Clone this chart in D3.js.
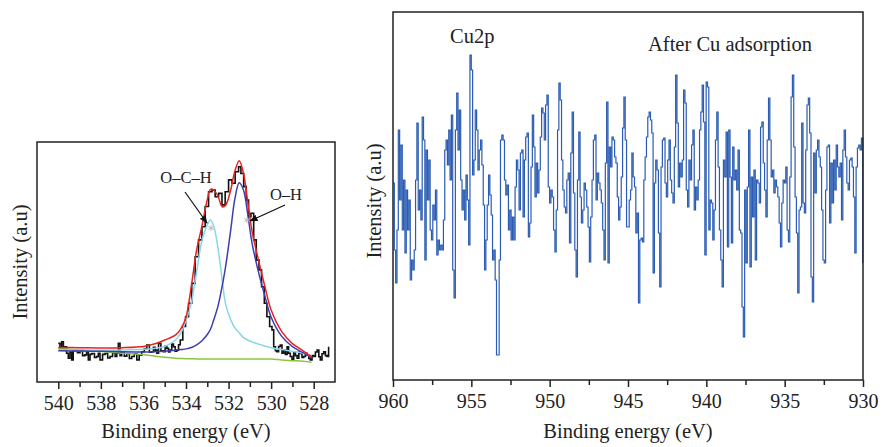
<!DOCTYPE html>
<html>
<head>
<meta charset="utf-8">
<script src="https://cdn.jsdelivr.net/npm/d3@7"></script>
<style>
body { margin: 0; background: #fff; }
text { font-family: "Liberation Serif", "DejaVu Serif", serif; fill: #222; }
</style>
</head>
<body>
<div id="xps"></div>
<script>
// XPS spectra: O1s fit (left) and Cu2p after adsorption (right)

// ---- O1s fitted curves ----
const fitEnergy = [540, 539, 538, 537, 536, 535.5, 535, 534.5, 534.25, 534, 533.75, 533.5, 533.25, 533, 532.85, 532.7, 532.5, 532.3, 532.15, 531.9, 531.7, 531.5, 531.3, 531.1, 530.9, 530.6, 530.3, 530, 529.5, 529, 528.5, 528.1];
const fitEnvelope = [14.4, 14.3, 14.2, 14.3, 14.8, 15.8, 17.5, 19.5, 22, 27, 40, 55, 65, 76, 80.3, 80, 77.5, 73, 73.5, 80, 88, 92.2, 87, 75, 63, 51, 40, 30, 21, 16, 13, 10.5];
const fitOCH = [13.4, 13.3, 13.2, 13.3, 13.6, 14, 14.8, 17.5, 20.3, 25.5, 33, 46, 59, 65.5, 67.5, 65, 56, 42.5, 33, 26, 22.5, 20.5, 18.5, 17.5, 16.7, 15.8, 15, 14.3, 13.5, 12.8, 12, 11];
const fitOH = [13, 12.9, 12.8, 12.6, 12.5, 12.6, 12.8, 13.2, 13.5, 13.8, 14.4, 15.5, 17.2, 19.8, 22, 25.8, 31.5, 40, 47.5, 63.3, 76.5, 83, 80, 70, 58, 46, 36, 27, 19, 14.7, 12.2, 10];
const fitBackground = [14.2, 13.4, 12.8, 12, 11.4, 10.8, 10.3, 9.9, 9.8, 9.7, 9.7, 9.6, 9.6, 9.6, 9.6, 9.6, 9.6, 9.6, 9.6, 9.6, 9.6, 9.6, 9.6, 9.6, 9.6, 9.6, 9.6, 9.6, 9.2, 8.9, 8.6, 8.2];

// ---- O1s measured counts ----
const o1sEnergy = [540, 539.92, 539.84, 539.76, 539.69, 539.61, 539.53, 539.45, 539.37, 539.3, 539.22, 539.1, 538.98, 538.86, 538.75, 538.67, 538.59, 538.51, 538.43, 538.3, 538.2, 538.12, 538.04, 537.92, 537.8, 537.68, 537.57, 537.45, 537.33, 537.25, 537.18, 537.1, 537.02, 536.9, 536.78, 536.66, 536.55, 536.43, 536.31, 536.2, 536.08, 535.96, 535.84, 535.72, 535.61, 535.53, 535.45, 535.37, 535.29, 535.18, 535.06, 534.98, 534.9, 534.82, 534.75, 534.67, 534.59, 534.51, 534.43, 534.35, 534.27, 534.15, 534.02, 533.88, 533.73, 533.57, 533.41, 533.25, 533.1, 532.94, 532.78, 532.63, 532.47, 532.31, 532.16, 532, 531.84, 531.69, 531.53, 531.42, 531.29, 531.17, 531.06, 530.95, 530.82, 530.7, 530.57, 530.45, 530.32, 530.2, 530.07, 529.96, 529.88, 529.8, 529.73, 529.65, 529.57, 529.49, 529.41, 529.33, 529.25, 529.18, 529.1, 529.02, 528.94, 528.86, 528.78, 528.7, 528.63, 528.55, 528.47, 528.39, 528.31, 528.23, 528.16, 528.08, 528, 527.92, 527.84, 527.76, 527.69, 527.61, 527.53, 527.45, 527.37, 527.3];
const o1sCounts = [16.1, 13.5, 16.8, 13.3, 14.7, 12, 9.9, 12.5, 9.2, 13, 13.3, 12.2, 13.3, 11, 11.3, 12.8, 9.2, 11.5, 11.9, 10.2, 10.6, 12, 9.2, 11.5, 11.9, 10, 10.6, 12.2, 10.6, 12, 16.1, 11, 12.6, 10.8, 11.9, 9.8, 10.6, 11.8, 9.2, 11.2, 12.6, 13.8, 15.4, 12.4, 12.6, 14.5, 13.3, 12, 16.1, 13, 12.6, 15, 14, 12.5, 13.3, 15.8, 14.7, 12.8, 13.3, 15.5, 17.5, 23.1, 27.2, 32.8, 41.1, 52.2, 59.2, 64.7, 73.1, 79.3, 80, 77.2, 78.6, 73.8, 79.3, 84.2, 82.8, 87.6, 89.7, 86.9, 81.4, 75.8, 68.9, 70.3, 59.2, 50.8, 46.7, 39.7, 32.8, 27.2, 23.1, 21.7, 14.7, 13, 12.6, 14.8, 15.4, 12, 13.3, 11.5, 14.7, 12, 10.6, 9.5, 12.6, 11, 9.9, 12.5, 11.9, 10.2, 10.6, 12, 11.3, 9.8, 9.2, 11, 10.6, 12.5, 13.3, 10.5, 9.2, 11.8, 12.6, 11, 10.6, 14.7];

// ---- Cu2p counts, one value per energy step from cuStart ----
const cuStart = 960;
const cuStep = 0.0847;
const cuCounts = [
  197, 130, 97, 150, 250, 180, 235, 150, 200, 127, 190, 150, 180, 100, 120, 110, 130, 200, 257, 170,
  190, 160, 263, 240, 120, 230, 180, 220, 150, 140, 175, 160, 190, 125, 140, 130, 135, 130, 160, 230,
  240, 215, 250, 200, 265, 110, 82, 250, 287, 230, 270, 200, 170, 190, 160, 205, 180, 135, 325, 310,
  205, 220, 270, 250, 210, 230, 240, 215, 175, 110, 140, 175, 205, 185, 165, 120, 130, 100, 25, 25,
  120, 240, 245, 240, 200, 185, 195, 150, 170, 140,
  163, 140, 193, 220, 210, 170, 227, 230, 163, 220, 243, 247, 143, 157, 213, 265, 233, 183, 217, 187,
  210, 243, 272, 267, 240, 275, 285, 193, 177, 190, 183, 150, 128, 170, 250, 297, 280, 220, 190, 173,
  167, 200, 207, 137, 227, 268, 187, 130, 103, 200, 248, 183, 157, 170, 197, 190, 173, 153, 118, 163,
  200, 240, 245, 180, 207, 197, 190, 177, 150, 120, 217, 278, 117, 233, 213, 243, 240, 223, 217, 183,
  160, 173, 203, 252, 283, 240, 153,
  153, 180, 190, 227, 203, 193, 147, 167, 77, 140, 142, 138, 200, 223, 243, 263, 268, 260, 247, 107,
  197, 220, 210, 147, 93, 213, 240, 242, 197, 183, 220, 240, 200, 187, 177, 233, 305, 257, 193, 217,
  203, 220, 290, 277, 190, 173, 220, 200, 235, 250, 170, 193, 180, 200, 250, 268, 295, 258, 125, 298,
  293, 150, 180, 177, 140, 170, 240, 268, 213, 150, 120, 93, 220, 203, 248, 133, 250, 203, 137, 233,
  200, 210, 190, 230, 150, 147, 73, 43, 190, 117,
  193, 250, 113, 203, 163, 210, 120, 200, 197, 177, 253, 258, 217, 190, 163, 240, 282, 240, 203, 210,
  187, 200, 193, 183, 157, 133, 177, 200, 197, 213, 150, 138, 203, 283, 305, 233, 183, 147, 87, 170,
  173, 257, 177, 167, 230, 275, 282, 247, 103, 78, 227, 187, 230, 240, 223, 213, 170, 120, 117, 190,
  233, 235, 157, 217, 177, 220, 190, 235, 213, 203, 217, 160, 230, 250, 223, 197, 190, 220, 222, 213,
  183, 127, 213, 232, 235, 230, 242, 117
];

// tick values
const o1sTicks = [540, 538, 536, 534, 532, 530, 528];
const o1sMinorTicks = [539, 537, 535, 533, 531, 529];
const cuTicks = [960, 955, 950, 945, 940, 935, 930];
const cuMinorTicks = [957.5, 952.5, 947.5, 942.5, 937.5, 932.5];

// ---- layout ----
const W = 893, H = 447;
const left = {x0: 37, x1: 335, y0: 142, y1: 382};
const right = {x0: 393, x1: 863, y0: 12, y1: 380};
const ink = "#222";

const svg = d3.select("#xps")
  .append("svg")
  .attr("width", W)
  .attr("height", H);

// scales
const xO = d3.scaleLinear().domain([541, 527]).range([left.x0, left.x1]);
const yO = d3.scaleLinear().domain([0, 100]).range([left.y1, left.y0]);
const xCu = d3.scaleLinear().domain([960, 930]).range([right.x0, right.x1]);
const yCu = d3.scaleLinear().domain([0, 368]).range([right.y1, right.y0]);

// bottom axis with major + minor ticks
function bottomAxis(x, yPos, major, minor) {
  svg.append("g")
    .attr("transform", `translate(0,${yPos})`)
    .call(d3.axisBottom(x).tickValues(minor).tickSize(5).tickFormat(""))
    .call(g => g.select(".domain").remove())
    .call(g => g.selectAll("line").attr("stroke", ink).attr("stroke-width", 1.5));

  svg.append("g")
    .attr("transform", `translate(0,${yPos})`)
    .call(d3.axisBottom(x).tickValues(major).tickSize(7).tickPadding(7).tickFormat(d3.format("d")))
    .attr("font-size", 20) // after the call, axis sets its own size
    .call(g => g.select(".domain").remove())
    .call(g => g.selectAll("line").attr("stroke", ink).attr("stroke-width", 1.5))
    .call(g => g.selectAll("text").attr("fill", ink));
}

// frame around a panel
function frame(p) {
  svg.append("rect")
    .attr("x", p.x0).attr("y", p.y0)
    .attr("width", p.x1 - p.x0).attr("height", p.y1 - p.y0)
    .attr("fill", "none")
    .attr("stroke", ink)
    .attr("stroke-width", 1.5);
}

// ================= left panel: O1s =================
const fitLine = vals => d3.line()
  .x((d, i) => xO(fitEnergy[i]))
  .y(d => yO(d))
  .curve(d3.curveCatmullRom)(vals);

// measured data (black, stepped)
svg.append("path")
  .attr("d", d3.line()
    .x((d, i) => xO(o1sEnergy[i]))
    .y(d => yO(d))
    .curve(d3.curveStepAfter)(o1sCounts))
  .attr("fill", "none")
  .attr("stroke", "#111")
  .attr("stroke-width", 1.6);

// fitted components
[[fitBackground, "#8cc63f"], [fitOCH, "#88d6ec"], [fitOH, "#3d3db0"], [fitEnvelope, "#e8231e"]]
  .forEach(([vals, col]) => {
    svg.append("path")
      .attr("d", fitLine(vals))
      .attr("fill", "none")
      .attr("stroke", col)
      .attr("stroke-width", 1.5);
  });

frame(left);
bottomAxis(xO, left.y1, o1sTicks, o1sMinorTicks);

// arrow marker
svg.append("defs").append("marker")
  .attr("id", "head")
  .attr("viewBox", "0 0 10 10")
  .attr("refX", 9).attr("refY", 5)
  .attr("markerWidth", 7).attr("markerHeight", 7)
  .attr("orient", "auto")
  .append("path")
  .attr("d", "M0,1 L10,5 L0,9 Z")
  .attr("fill", "#111");

// peak labels with arrows
svg.append("line")
  .attr("x1", 185).attr("y1", 192).attr("x2", 207).attr("y2", 223)
  .attr("stroke", "#111").attr("stroke-width", 1.2)
  .attr("marker-end", "url(#head)");
svg.append("line")
  .attr("x1", 285).attr("y1", 205).attr("x2", 250).attr("y2", 221)
  .attr("stroke", "#111").attr("stroke-width", 1.2)
  .attr("marker-end", "url(#head)");

// faint markers at arrow tips
[[211, 228], [247, 220]].forEach(([px, py]) => {
  svg.append("path")
    .attr("d", d3.symbol(d3.symbolAsterisk, 28)())
    .attr("transform", `translate(${px},${py})`)
    .attr("stroke", "#bbb")
    .attr("stroke-width", 1)
    .attr("fill", "none");
});

svg.append("text")
  .attr("x", 186).attr("y", 183)
  .attr("text-anchor", "middle")
  .attr("font-size", 16.5)
  .text("O–C–H");
svg.append("text")
  .attr("x", 286).attr("y", 200)
  .attr("text-anchor", "middle")
  .attr("font-size", 16.5)
  .text("O–H");

// axis titles
svg.append("text")
  .attr("x", (left.x0 + left.x1) / 2).attr("y", 438)
  .attr("text-anchor", "middle")
  .attr("font-size", 20.5)
  .text("Binding energy (eV)");
svg.append("text")
  .attr("transform", `translate(27,${(left.y0 + left.y1) / 2}) rotate(-90)`)
  .attr("text-anchor", "middle")
  .attr("font-size", 20.5)
  .text("Intensity (a.u)");

// ================= right panel: Cu2p =================
svg.append("path")
  .attr("d", d3.line()
    .x((d, i) => xCu(cuStart - i * cuStep))
    .y(d => yCu(d))
    .curve(d3.curveStepAfter)(cuCounts))
  .attr("fill", "none")
  .attr("stroke", "#2b5cb3")
  .attr("stroke-width", 1.2);

frame(right);
bottomAxis(xCu, right.y1, cuTicks, cuMinorTicks);

svg.append("text")
  .attr("x", 450).attr("y", 43)
  .attr("font-size", 20.5)
  .text("Cu2p");
svg.append("text")
  .attr("x", 648).attr("y", 51)
  .attr("font-size", 20.5)
  .text("After Cu adsorption");

svg.append("text")
  .attr("x", (right.x0 + right.x1) / 2).attr("y", 438)
  .attr("text-anchor", "middle")
  .attr("font-size", 20.5)
  .text("Binding energy (eV)");
svg.append("text")
  .attr("transform", `translate(381,${(right.y0 + right.y1) / 2 + 5}) rotate(-90)`)
  .attr("text-anchor", "middle")
  .attr("font-size", 20.5)
  .text("Intensity (a.u)");
</script>
</body>
</html>
